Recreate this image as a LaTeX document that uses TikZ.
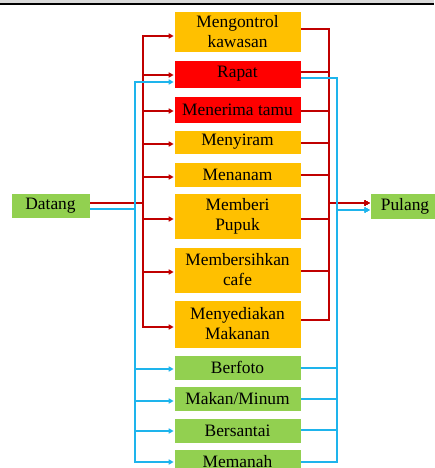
\documentclass[tikz,border=0pt]{standalone}
\usepackage{fontspec}
\setmainfont{Liberation Serif}
\usetikzlibrary{arrows.meta,calc}
\definecolor{org}{HTML}{FFC000}
\definecolor{rd}{HTML}{FF0000}
\definecolor{grn}{HTML}{92D050}
\definecolor{lnred}{HTML}{C00000}
\definecolor{lnblue}{HTML}{1EB4EC}
\definecolor{band}{HTML}{D9D9D9}
\begin{document}
\begin{tikzpicture}[x=1pt,y=-1pt,
  box/.style={draw=white, line width=0.6pt, minimum width=127pt, inner sep=0pt,
    align=center, font=\fontsize{17.4}{20}\selectfont, text=black},
  rl/.style={draw=lnred, line width=1.3pt},
  bline/.style={draw=lnblue, line width=1.3pt},
  tip/.style={-{Triangle[length=5pt,width=5pt]}}]
\useasboundingbox (0,0) rectangle (434,468);
\fill[band] (0,0) rectangle (434,3);
\fill[black] (0,3) rectangle (434,5.5);

\node[box, fill=grn, minimum width=79pt, minimum height=25pt] (datang) at (50.5,205.5) {Datang};
\node[box, fill=grn, minimum width=70pt, minimum height=26pt] (pulang) at (405,206) {Pulang};

\node[box, fill=org, minimum height=41pt] (n1) at (237.5,31.5) {Mengontrol\\kawasan};
\node[box, fill=rd, minimum height=28pt] (rapat) at (237.5,74) {Rapat};
\node[box, fill=rd, minimum height=27pt] (tamu) at (237.5,109.5) {Menerima tamu};
\node[box, fill=org, minimum height=24pt] (siram) at (237.5,142) {Menyiram};
\node[box, fill=org, minimum height=25pt] (tanam) at (237.5,174.5) {Menanam};
\node[box, fill=org, minimum height=46pt] (pupuk) at (237.5,216) {Memberi\\Pupuk};
\node[box, fill=org, minimum height=46pt] (cafe) at (237.5,270) {Membersihkan\\cafe};
\node[box, fill=org, minimum height=48pt] (makanan) at (237.5,324) {Menyediakan\\Makanan};
\node[box, fill=grn, minimum height=25pt] (foto) at (237.5,367.5) {Berfoto};
\node[box, fill=grn, minimum height=25pt] (makan) at (237.5,398.5) {Makan/Minum};
\node[box, fill=grn, minimum height=25pt] (santai) at (237.5,430.5) {Bersantai};
\node[box, fill=grn, minimum height=25pt] (panah) at (237.5,461.5) {Memanah};

\coordinate (rL) at (143,0);
\coordinate (bL) at (135,0);
\coordinate (rR) at (329,0);
\coordinate (bR) at (337,0);
\coordinate (dR) at ($(datang.east)+(0,-2.5)$);
\coordinate (dB) at ($(datang.east)+(0,3.5)$);
\coordinate (pR) at ($(pulang.west)+(0,-3)$);
\coordinate (pB) at ($(pulang.west)+(0,4)$);

% red flows
\foreach \n/\a/\b in {n1/4.5/-2.5, rapat/1/-2, tamu/1.5/1.5, siram/2/1, tanam/2.5/0.5,
    pupuk/3/3, cafe/2/1, makanan/3/-4} {
  \coordinate (tin) at ($(\n.west)+(0,\a)$);
  \coordinate (tout) at ($(\n.east)+(0,\b)$);
  \draw[rl,tip] (dR) -| (rL |- tin) -- (tin);
  \draw[rl,tip] (tout) -| (rR |- pR) -- (pR);
}
% blue flows
\foreach \n/\a/\b in {rapat/8/4, foto/1.5/0.5, makan/2.5/0.5, santai/0.5/-0.5, panah/0.5/0.5} {
  \coordinate (tin) at ($(\n.west)+(0,\a)$);
  \coordinate (tout) at ($(\n.east)+(0,\b)$);
  \draw[bline,tip] (dB) -| (bL |- tin) -- (tin);
  \draw[bline,tip] (tout) -| (bR |- pB) -- (pB);
}
\end{tikzpicture}
\end{document}
